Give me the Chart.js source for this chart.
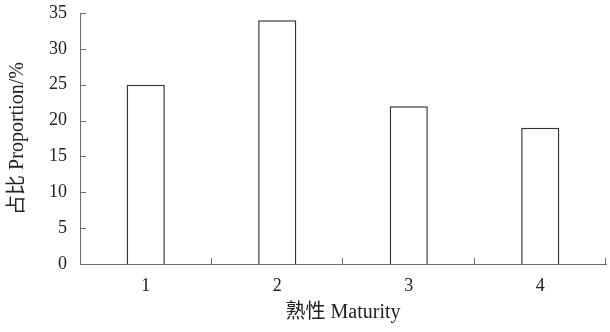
<!DOCTYPE html>
<html>
<head>
<meta charset="utf-8">
<script src="https://cdn.jsdelivr.net/npm/chart.js@4"></script>
<style>
  html, body { margin: 0; padding: 0; background: #fff; }
  #wrap { width: 610px; height: 332px; }
</style>
</head>
<body>
<div id="wrap"><canvas id="c" width="610" height="332"></canvas></div>
<script>
// Share of samples per maturity class
const categories = ['1', '2', '3', '4'];
const proportion = [25, 34, 22, 19];
const yTicks = [0, 5, 10, 15, 20, 25, 30, 35];

const FONT = "'Liberation Serif', 'Times New Roman', 'Noto Sans CJK SC', serif";
const AXIS_COLOR = '#6b6b6b';

// Short tick marks pointing into the plot area
const innerTicks = {
  id: 'innerTicks',
  afterDraw(chart) {
    const ctx = chart.ctx;
    const x = chart.scales.x, y = chart.scales.y;
    ctx.save();
    ctx.strokeStyle = AXIS_COLOR;
    ctx.lineWidth = 1;
    ctx.beginPath();
    yTicks.forEach(v => {
      const py = Math.round(y.getPixelForValue(v)) + 0.5;
      ctx.moveTo(x.left, py);
      ctx.lineTo(x.left + 6, py);
    });
    const n = categories.length;
    for (let i = 1; i <= n; i++) {
      const px = Math.round(x.left + (x.right - x.left) * i / n) - 0.5;
      ctx.moveTo(px, y.bottom);
      ctx.lineTo(px, y.bottom - 6);
    }
    ctx.stroke();
    ctx.restore();
  }
};

new Chart(document.getElementById('c'), {
  type: 'bar',
  data: {
    labels: categories,
    datasets: [{
      data: proportion,
      backgroundColor: '#ffffff',
      borderColor: '#333333',
      borderWidth: 1.5,
      categoryPercentage: 1,
      barPercentage: 0.29
    }]
  },
  options: {
    responsive: false,
    animation: false,
    devicePixelRatio: 1,
    layout: { padding: { top: 13, right: 4, left: 0, bottom: 0 } },
    plugins: { legend: { display: false }, tooltip: { enabled: false } },
    scales: {
      x: {
        grid: { display: false, drawTicks: false },
        border: { display: true, color: AXIS_COLOR, width: 1 },
        ticks: { color: '#222', font: { family: FONT, size: 18 }, padding: 11 },
        title: {
          display: true, text: '熟性 Maturity', color: '#222',
          font: { family: FONT, size: 20 }, padding: { top: 4, bottom: 7 }
        },
        afterFit(s) { s.height = 68; s.paddingLeft = 0; s.paddingRight = 0; }
      },
      y: {
        min: 0, max: 35,
        afterBuildTicks(s) { s.ticks = yTicks.map(v => ({ value: v })); },
        grid: { display: false, drawTicks: false },
        border: { display: true, color: AXIS_COLOR, width: 1 },
        ticks: { color: '#222', font: { family: FONT, size: 18 }, padding: 13 },
        title: {
          display: true, text: '占比 Proportion/%', color: '#222',
          font: { family: FONT, size: 20 }, padding: { top: 6, bottom: 4 }
        },
        afterFit(s) { s.width = 80; s.paddingTop = 0; s.paddingBottom = 0; }
      }
    }
  },
  plugins: [innerTicks]
});
</script>
</body>
</html>
